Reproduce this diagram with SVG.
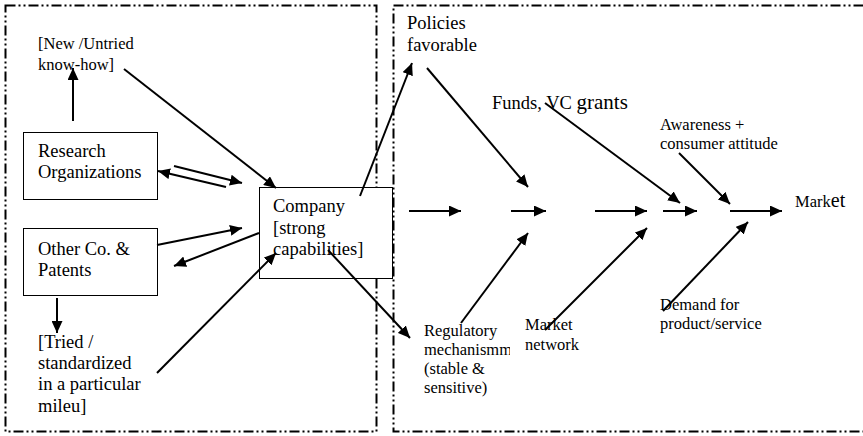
<svg xmlns="http://www.w3.org/2000/svg" width="863" height="436" viewBox="0 0 863 436">
<style>
.frame{fill:none;stroke:#000;stroke-width:2;stroke-dasharray:10 3 2 3 2 3}
.box{fill:#fff;stroke:#000;stroke-width:1}
.t{font-family:"Liberation Serif","Times New Roman",serif;fill:#000}
.l{font-size:18.5px}
.s{font-size:16.5px}
.c line{stroke:#000;stroke-width:2;marker-end:url(#ah)}
</style>
<defs>
<marker id="ah" markerUnits="userSpaceOnUse" markerWidth="12" markerHeight="11" refX="12" refY="5.5" orient="auto">
<path d="M0,0 L12,5.5 L0,11 z" fill="#000"/>
</marker>
<clipPath id="regclip"><rect x="400" y="300" width="110" height="120"/></clipPath>
</defs>
<rect width="863" height="436" fill="#fff"/>
<g id="frames">
<rect class="frame" x="5.5" y="5.5" width="371" height="426"/>
<rect class="frame" x="393.5" y="5.5" width="480" height="426"/>
</g>
<g id="research">
<rect class="box" x="23.5" y="132.5" width="134" height="67"/>
<text class="t l" x="38" y="157">Research</text>
<text class="t l" x="38" y="178">Organizations</text>
</g>
<g id="otherco">
<rect class="box" x="23.5" y="228.5" width="134" height="67"/>
<text class="t l" x="38" y="255">Other Co. &amp;</text>
<text class="t l" x="38" y="276">Patents</text>
</g>
<g id="company">
<rect class="box" x="259.5" y="187.5" width="133" height="91"/>
<text class="t l" x="273" y="212">Company</text>
<text class="t l" x="273" y="234">[strong</text>
<text class="t l" x="273" y="255">capabilities]</text>
</g>
<g id="newknow">
<text class="t s" x="38" y="49">[New /Untried</text>
<text class="t s" x="38" y="70">know-how]</text>
</g>
<g id="tried">
<text class="t l" x="38" y="348">[Tried /</text>
<text class="t l" x="38" y="369">standardized</text>
<text class="t l" x="38" y="390">in a particular</text>
<text class="t l" x="38" y="412">mileu]</text>
</g>
<g id="policies">
<text class="t l" x="407" y="29">Policies</text>
<text class="t l" x="407" y="51">favorable</text>
</g>
<g id="funds">
<text class="t l" x="492" y="109">Funds, VC <tspan font-size="21px">grants</tspan></text>
</g>
<g id="awareness">
<text class="t s" x="660" y="130">Awareness +</text>
<text class="t s" x="660" y="149">consumer attitude</text>
</g>
<g id="market">
<text class="t s" x="795" y="207">Mark<tspan font-size="20px">et</tspan></text>
</g>
<g id="regulatory" clip-path="url(#regclip)">
<text class="t s" x="424" y="336">Regulatory</text>
<text class="t s" x="424" y="355">mechanismm</text>
<text class="t s" x="424" y="374">(stable &amp;</text>
<text class="t s" x="424" y="393">sensitive)</text>
</g>
<g id="marketnetwork">
<text class="t s" x="525" y="330">Market</text>
<text class="t s" x="525" y="350">network</text>
</g>
<g id="demand">
<text class="t s" x="660" y="310">Demand for</text>
<text class="t s" x="660" y="329">product/service</text>
</g>
<g id="connectors" class="c">
<line x1="73" y1="121" x2="73" y2="68"/>
<line x1="124" y1="69" x2="276" y2="188"/>
<line x1="174" y1="166" x2="242" y2="183"/>
<line x1="226" y1="187" x2="158" y2="171"/>
<line x1="157" y1="245" x2="242" y2="228"/>
<line x1="259" y1="233" x2="174" y2="266"/>
<line x1="57" y1="298" x2="57" y2="333"/>
<line x1="157" y1="373" x2="276" y2="253"/>
<line x1="360" y1="196" x2="412" y2="63"/>
<line x1="328" y1="250" x2="410" y2="338"/>
<line x1="409" y1="211" x2="461" y2="211"/>
<line x1="511" y1="211" x2="546" y2="211"/>
<line x1="595" y1="211" x2="647" y2="211"/>
<line x1="663" y1="211" x2="697" y2="211"/>
<line x1="730" y1="211" x2="782" y2="211"/>
<line x1="427" y1="68" x2="528" y2="187"/>
<line x1="545" y1="103" x2="680" y2="203"/>
<line x1="679" y1="153" x2="730" y2="204"/>
<line x1="461" y1="323" x2="528" y2="233"/>
<line x1="545" y1="330" x2="647" y2="228"/>
<line x1="663" y1="311" x2="748" y2="222"/>
</g>
</svg>
